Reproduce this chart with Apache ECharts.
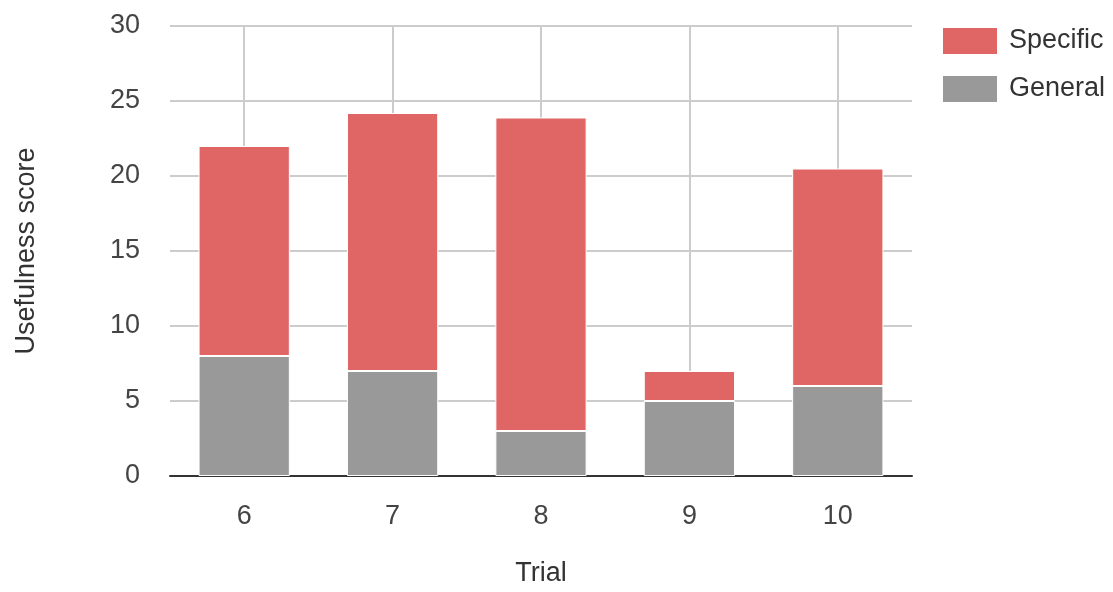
<!DOCTYPE html>
<html>
<head>
<meta charset="utf-8">
<script src="https://cdn.jsdelivr.net/npm/echarts@6/dist/echarts.min.js"></script>
<style>html,body{margin:0;padding:0;background:#fff}#c{width:1113px;height:592px}</style>
</head>
<body>
<div id="c"></div>
<script>
const categories = ['6', '7', '8', '9', '10'];
const generalValues = [8, 7, 3, 5, 6];
const specificValues = [14, 17.2, 20.9, 2, 14.5];
const yTicks = [0, 5, 10, 15, 20, 25, 30];

const font = 'Liberation Sans, Arial, sans-serif';
const chart = echarts.init(document.getElementById('c'));
chart.setOption({
  animation: false,
  textStyle: { fontFamily: font },
  grid: { left: 170, right: 201, top: 26, bottom: 108, containLabel: false },
  legend: {
    orient: 'vertical', left: 941, top: 26, padding: 0,
    itemWidth: 56, itemHeight: 28, itemGap: 18,
    data: ['Specific', 'General'],
    textStyle: { fontSize: 27, color: '#333', fontFamily: font, padding: [0, 0, 0, 6] },
    icon: 'rect'
  },
  xAxis: {
    type: 'category', data: categories,
    name: 'Trial', nameLocation: 'middle', nameGap: 84,
    nameTextStyle: { fontSize: 27, color: '#333', fontFamily: font },
    axisLine: { lineStyle: { color: '#333', width: 2 } },
    axisTick: { show: false },
    axisLabel: { fontSize: 27, color: '#444', margin: 27, fontFamily: font },
    splitLine: { show: true, alignWithLabel: true, lineStyle: { color: '#ccc', width: 2 } }
  },
  yAxis: {
    type: 'value', min: yTicks[0], max: yTicks[yTicks.length - 1], interval: 5,
    name: 'Usefulness score', nameLocation: 'middle', nameGap: 130,
    nameTextStyle: { fontSize: 27, color: '#333', fontFamily: font },
    axisLine: { show: false }, axisTick: { show: false },
    axisLabel: { fontSize: 27, color: '#444', margin: 30, fontFamily: font },
    splitLine: { lineStyle: { color: '#ccc', width: 2 } }
  },
  series: [
    {
      name: 'General', type: 'bar', stack: 'total', data: generalValues,
      barWidth: '61.5%',
      itemStyle: { color: '#999999', borderColor: '#fff', borderWidth: 1 }
    },
    {
      name: 'Specific', type: 'bar', stack: 'total', data: specificValues,
      barWidth: '61.5%',
      itemStyle: { color: '#e06666', borderColor: '#fff', borderWidth: 1 }
    }
  ]
});
</script>
</body>
</html>
